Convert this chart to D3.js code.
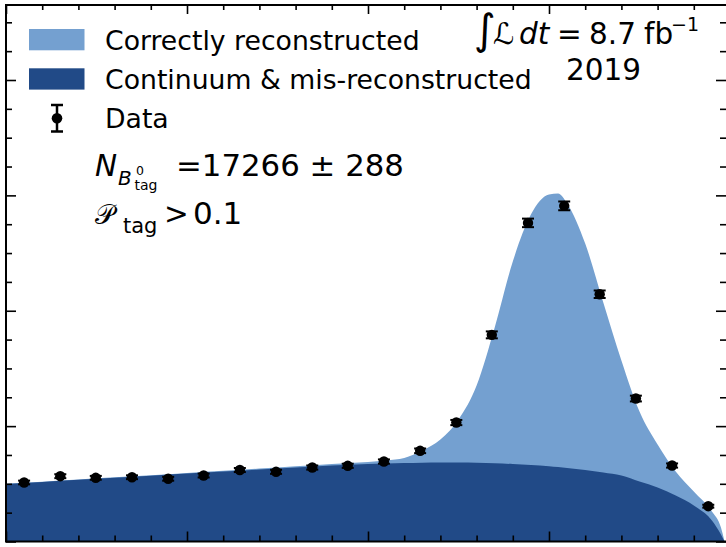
<!DOCTYPE html>
<html><head><meta charset="utf-8">
<script src="https://cdn.jsdelivr.net/npm/d3@7"></script>
<style>
body{margin:0;background:#fff;overflow:hidden}
text{font-family:"DejaVu Sans",sans-serif;fill:#000}
</style>
</head><body><svg id="c" width="726" height="547"></svg>
<script>
// ---- data ----
const binCenters = [5.2025,5.2075,5.2124,5.2174,5.2224,5.2273,5.2323,5.2373,5.2423,5.2472,
                    5.2522,5.2572,5.2622,5.2671,5.2721,5.2771,5.2820,5.2870,5.2920,5.2970];
const counts = [1023,1132,1104,1114,1087,1144,1239,1208,1282,1312,
                1386,1572,2062,3582,5523,5818,4286,2478,1317,612];
const errors = [32,34,33,33,33,34,35,35,36,36,37,40,45,60,74,76,65,50,36,25];

const curveX = [5.200,5.205,5.210,5.215,5.220,5.225,5.230,5.235,5.240,5.245,5.250,5.2525,5.255,5.2575,
                5.260,5.2625,5.265,5.2675,5.270,5.2725,5.275,5.27625,5.2775,5.280,5.2825,5.285,5.2875,
                5.290,5.2925,5.295,5.2975,5.29875,5.29925];
const continuumCurve = [997,1033,1069,1106,1140,1177,1213,1248,1282,1317,1343,1352,1360,1366,
                        1369,1368,1364,1355,1343,1326,1305,1290,1275,1239,1195,1144,1040,
                        936,797,624,364,121,0];
const correctCurve = [3,4,5,6,8,10,13,16,21,28,36,52,87,211,
                      399,746,1340,2354,3510,4341,4709,4741,4583,3926,2947,1993,1213,
                      745,416,243,156,122,0];

const legendLabels = ["Correctly reconstructed","Continuum & mis-reconstructed","Data"];
const legendColors = ["#74a0d0","#214a87"];
const xMinorTicks = d3.range(0,21).map(i=>5.20+i*0.005);
const xMajorTicks = [5.200,5.225,5.250,5.275,5.300];
const yMinorTicks = d3.range(0,19).map(i=>i*500);
const yMajorTicks = [0,2000,4000,6000,8000];

// ---- chart ----
const svg = d3.select("#c");
const L=6, R=730, T=5, B=541.5;
const x = d3.scaleLinear().domain([5.20,5.30]).range([L,R]);
const y = d3.scaleLinear().domain([0,9300]).range([B,T]);

const pts = curveX.map((v,i)=>({x:v,b:continuumCurve[i],s:correctCurve[i]}));
const areaTot = d3.area().x(d=>x(d.x)).y0(y(0)).y1(d=>y(d.b+d.s)).curve(d3.curveMonotoneX);
const areaBkg = d3.area().x(d=>x(d.x)).y0(y(0)).y1(d=>y(d.b)).curve(d3.curveMonotoneX);
svg.append("path").datum(pts).attr("d",areaTot).attr("fill",legendColors[0]);
svg.append("path").datum(pts).attr("d",areaBkg).attr("fill",legendColors[1]);

// data points
const dg = svg.append("g");
binCenters.forEach((c,i)=>{
  const cx=x(c), v=counts[i], e=errors[i];
  dg.append("line").attr("x1",cx).attr("x2",cx).attr("y1",y(v-e)).attr("y2",y(v+e)).attr("stroke","#000").attr("stroke-width",2);
  [v-e,v+e].forEach(t=>dg.append("line").attr("x1",cx-6).attr("x2",cx+6).attr("y1",y(t)).attr("y2",y(t)).attr("stroke","#000").attr("stroke-width",2));
  dg.append("circle").attr("cx",cx).attr("cy",y(v)).attr("r",5.2).attr("fill","#000");
});

// axes with inward ticks
function addAxis(gen, tr, vals, size){
  const g = svg.append("g").attr("transform",tr)
    .call(gen.tickValues(vals).tickSize(size).tickSizeOuter(0).tickFormat(""));
  g.select(".domain").remove();
  g.selectAll(".tick line").attr("stroke","#000").attr("stroke-width",1.6);
}
const xMinorOnly = xMinorTicks.filter(v=>!xMajorTicks.some(m=>Math.abs(m-v)<1e-9));
const yMinorOnly = yMinorTicks.filter(v=>!yMajorTicks.includes(v));
addAxis(d3.axisBottom(x), `translate(0,${B})`, xMinorOnly, -6);
addAxis(d3.axisBottom(x), `translate(0,${B})`, xMajorTicks, -10);
addAxis(d3.axisTop(x), `translate(0,${T})`, xMinorOnly, -5);
addAxis(d3.axisTop(x), `translate(0,${T})`, xMajorTicks, -9);
addAxis(d3.axisLeft(y), `translate(${L},0)`, yMinorOnly, -6);
addAxis(d3.axisLeft(y), `translate(${L},0)`, yMajorTicks, -10);
addAxis(d3.axisRight(y), `translate(${R-4},0)`, yMinorOnly, -6);
addAxis(d3.axisRight(y), `translate(${R-4},0)`, yMajorTicks, -10);

svg.append("rect").attr("x",L).attr("y",T).attr("width",R-L).attr("height",B-T)
  .attr("fill","none").attr("stroke","#000").attr("stroke-width",2);

// legend
const lg = svg.append("g");
[0,1].forEach(i=>{
  lg.append("rect").attr("x",29).attr("y",29+i*39.3).attr("width",55.5).attr("height",21.3).attr("fill",legendColors[i]);
});
lg.append("line").attr("x1",57).attr("x2",57).attr("y1",105).attr("y2",131.5).attr("stroke","#000").attr("stroke-width",2.5);
[105,131.5].forEach(t=>lg.append("line").attr("x1",51).attr("x2",63).attr("y1",t).attr("y2",t).attr("stroke","#000").attr("stroke-width",2.5));
lg.append("circle").attr("cx",57).attr("cy",118.3).attr("r",5.3).attr("fill","#000");
legendLabels.forEach((t,i)=>{
  lg.append("text").attr("x",105).attr("y",50+i*39).attr("font-size",26.7).text(t);
});

// annotations
const fs=29.5;
function txt(s,xx,yy,size,style){
  const t=svg.append("text").attr("x",xx).attr("y",yy).attr("font-size",size).text(s);
  if(style) t.attr("font-style",style);
  return t;
}
txt("N",95,176,fs,"italic");
txt("B",118,185,20,"italic");
txt("0",136,175,12.5);
txt("tag",134.5,190,14);
txt("=17266 \u00b1 288",176,176,30.8);

txt("\uD835\uDCAB",95,224,27);
txt("tag",123,233,21);
txt(">",164,224,fs);
txt("0.1",193,224,31);

txt("\u222B",474,44,42);
txt("\u2112",493,44,fs);
txt("dt",519,44,fs,"italic");
txt("=",557,44,fs);
txt("8.7",589,44,fs);
txt("fb",644,44,fs);
txt("\u22121",671,31,19);
txt("2019",566,80,fs);
</script>
</body></html>
